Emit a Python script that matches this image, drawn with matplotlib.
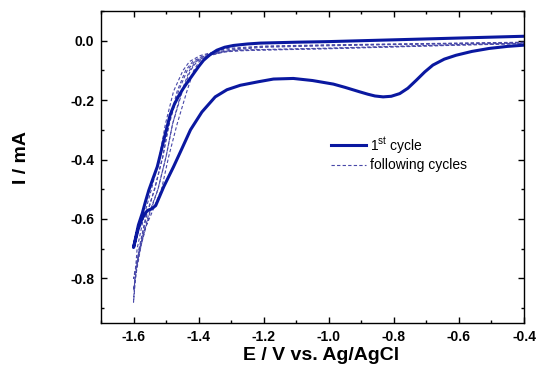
import matplotlib
matplotlib.use("Agg")
import matplotlib.pyplot as plt
from matplotlib.ticker import MultipleLocator

plt.rcParams['font.family'] = ['Liberation Sans', 'DejaVu Sans']

# ---- data (E in V vs Ag/AgCl, I in mA) ----
# first cycle, cathodic sweep (from -0.4 V to -1.6 V)
first_cat_E = [-0.400, -0.450, -0.507, -0.560, -0.609, -0.645, -0.680, -0.705, -0.731, -0.757,
               -0.782, -0.808, -0.833, -0.858, -0.880, -0.905, -0.950, -0.986, -1.050, -1.109,
               -1.170, -1.216, -1.272, -1.313, -1.349, -1.390, -1.425, -1.450, -1.477, -1.507,
               -1.532, -1.545, -1.558, -1.573, -1.586, -1.600]
first_cat_I = [-0.015, -0.019, -0.026, -0.036, -0.049, -0.062, -0.082, -0.105, -0.133, -0.160,
               -0.178, -0.187, -0.189, -0.186, -0.180, -0.172, -0.157, -0.146, -0.134, -0.127,
               -0.129, -0.138, -0.150, -0.165, -0.189, -0.240, -0.300, -0.360, -0.424, -0.491,
               -0.555, -0.566, -0.572, -0.597, -0.635, -0.696]
# first cycle, anodic sweep (from -1.6 V back to -0.4 V)
first_an_E = [-1.600, -1.593, -1.585, -1.573, -1.563, -1.553, -1.540, -1.527, -1.517, -1.507,
              -1.497, -1.487, -1.475, -1.462, -1.448, -1.433, -1.415, -1.400, -1.385, -1.365,
              -1.344, -1.320, -1.293, -1.250, -1.210, -1.100, -1.000, -0.800, -0.600, -0.400]
first_an_I = [-0.696, -0.660, -0.620, -0.580, -0.540, -0.503, -0.463, -0.424, -0.380, -0.334,
              -0.290, -0.248, -0.215, -0.187, -0.162, -0.138, -0.110, -0.087, -0.066, -0.047,
              -0.032, -0.022, -0.016, -0.011, -0.008, -0.005, -0.003, 0.003, 0.009, 0.015]

# following cycles: cathodic (-0.4 -> -1.6) and anodic (-1.6 -> -0.4) branches
cycA_cat_E = [-0.40, -0.60, -0.80, -1.00, -1.20, -1.313, -1.354, -1.395, -1.428, -1.448, -1.477,
              -1.502, -1.520, -1.545, -1.568, -1.589, -1.596, -1.600]
cycA_cat_I = [-0.005, -0.008, -0.011, -0.014, -0.018, -0.026, -0.038, -0.050, -0.070, -0.100, -0.170,
              -0.280, -0.390, -0.500, -0.590, -0.700, -0.800, -0.880]
cycA_an_E = [-1.600, -1.594, -1.583, -1.562, -1.535, -1.510, -1.490, -1.462, -1.435, -1.412, -1.380,
             -1.340, -1.290, -1.221, -1.00, -0.80, -0.60, -0.40]
cycA_an_I = [-0.880, -0.800, -0.700, -0.590, -0.500, -0.390, -0.280, -0.170, -0.100, -0.070, -0.050,
             -0.038, -0.032, -0.030, -0.025, -0.019, -0.013, -0.008]

cycB_cat_E = [-0.40, -0.60, -0.80, -1.00, -1.20, -1.300, -1.345, -1.385, -1.418, -1.440, -1.466,
              -1.492, -1.510, -1.536, -1.560, -1.582, -1.594, -1.600]
cycB_cat_I = [-0.006, -0.009, -0.012, -0.015, -0.020, -0.028, -0.039, -0.050, -0.070, -0.100, -0.170,
              -0.280, -0.390, -0.500, -0.590, -0.700, -0.790, -0.840]
cycB_an_E = [-1.600, -1.590, -1.577, -1.555, -1.525, -1.500, -1.480, -1.450, -1.425, -1.405, -1.372,
             -1.330, -1.280, -1.221, -1.00, -0.80, -0.60, -0.40]
cycB_an_I = [-0.840, -0.770, -0.690, -0.590, -0.500, -0.390, -0.280, -0.170, -0.100, -0.070, -0.050,
             -0.038, -0.033, -0.031, -0.026, -0.020, -0.014, -0.009]

cycC_cat_E = [-0.40, -0.60, -0.80, -1.00, -1.20, -1.290, -1.335, -1.375, -1.408, -1.428, -1.452,
              -1.480, -1.500, -1.525, -1.553, -1.577, -1.591, -1.600]
cycC_cat_I = [-0.007, -0.010, -0.013, -0.017, -0.022, -0.030, -0.040, -0.051, -0.070, -0.100, -0.170,
              -0.280, -0.390, -0.500, -0.590, -0.690, -0.760, -0.800]
cycC_an_E = [-1.600, -1.586, -1.568, -1.548, -1.514, -1.492, -1.466, -1.436, -1.415, -1.398, -1.365,
             -1.322, -1.272, -1.221, -1.00, -0.80, -0.60, -0.40]
cycC_an_I = [-0.800, -0.720, -0.640, -0.590, -0.500, -0.390, -0.280, -0.170, -0.100, -0.070, -0.050,
             -0.038, -0.034, -0.032, -0.027, -0.021, -0.015, -0.010]

x_ticks = [-1.6, -1.4, -1.2, -1.0, -0.8, -0.6, -0.4]
y_ticks = [0.0, -0.2, -0.4, -0.6, -0.8]

solid_color = '#0a18a0'
dash_color = '#4848a8'

fig = plt.figure(figsize=(5.39, 3.69), dpi=100)
ax = fig.add_axes([101/539, 1-323/369, 423/539, 312/369])

for cE, cI, aE, aI in [(cycA_cat_E, cycA_cat_I, cycA_an_E, cycA_an_I),
                       (cycB_cat_E, cycB_cat_I, cycB_an_E, cycB_an_I),
                       (cycC_cat_E, cycC_cat_I, cycC_an_E, cycC_an_I)]:
    ax.plot(cE + aE, cI + aI, color=dash_color, lw=0.8, ls=(0, (3, 2)))
ax.plot([], [], color=dash_color, lw=0.8, ls=(0, (3, 2)), label='following cycles')
ax.plot(first_cat_E + first_an_E, first_cat_I + first_an_I, color=solid_color, lw=2.2,
        solid_joinstyle='round', label='1$^{\\mathregular{st}}$ cycle')

ax.set_xlim(-1.7, -0.4)
ax.set_ylim(-0.95, 0.1)
ax.set_xticks(x_ticks)
ax.set_xticklabels([f'{v:.1f}' for v in x_ticks])
ax.set_yticks(y_ticks)
ax.set_yticklabels([f'{v:.1f}' for v in y_ticks])
ax.xaxis.set_minor_locator(MultipleLocator(0.1))
ax.yaxis.set_minor_locator(MultipleLocator(0.1))
ax.tick_params(which='both', direction='in', top=True, right=True, width=1.0)
ax.tick_params(which='major', length=4.5, labelsize=10, pad=5)
ax.tick_params(which='minor', length=2.5)
for lab in ax.get_xticklabels() + ax.get_yticklabels():
    lab.set_fontweight('bold')
for sp in ax.spines.values():
    sp.set_linewidth(1.0)

ax.set_xlabel('E / V vs. Ag/AgCl', fontsize=14, fontweight='bold')
ax.set_ylabel('I / mA', fontsize=14, fontweight='bold')
ax.xaxis.label.set_va('center')
ax.yaxis.label.set_va('center')
ax.xaxis.set_label_coords((321.5-101)/423, (323-355)/312)
ax.yaxis.set_label_coords((21.5-101)/423, (323-157)/312)

handles, labels = ax.get_legend_handles_labels()
leg = ax.legend(handles[::-1], labels[::-1], loc='upper left',
                bbox_to_anchor=((331-101)/423, (323-135)/312),
                frameon=False, fontsize=10, handlelength=2.5, handletextpad=0.3,
                labelspacing=0.2, borderaxespad=0, borderpad=0)

fig.savefig('out.png', dpi=100)
